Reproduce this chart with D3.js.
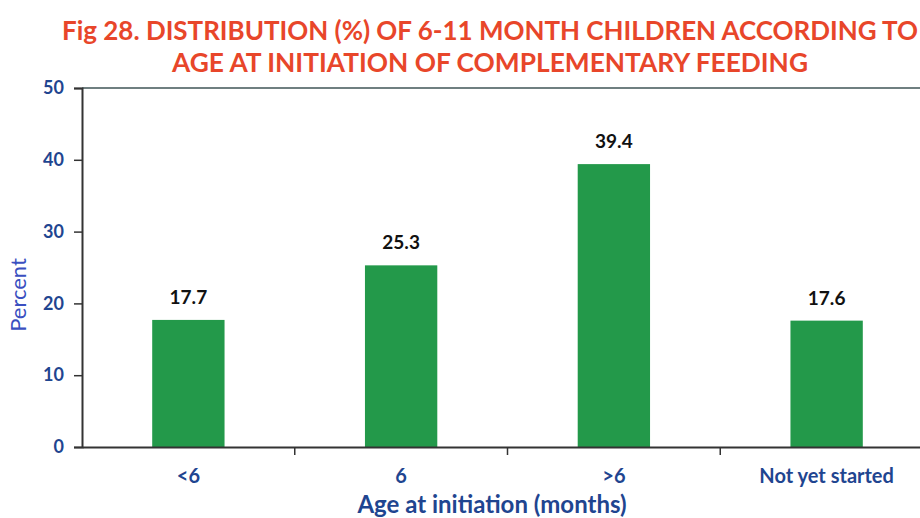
<!DOCTYPE html>
<html>
<head>
<meta charset="utf-8">
<script src="https://cdn.jsdelivr.net/npm/d3@7"></script>
<style>
  body { margin: 0; background: #fff; }
  svg { display: block; font-family: Lato, "Open Sans", sans-serif; }
</style>
</head>
<body>
<div id="chart"></div>
<script>
// data
var categories = ["<6", "6", ">6", "Not yet started"];
var percents = [17.7, 25.3, 39.4, 17.6];
var yTicks = [0, 10, 20, 30, 40, 50];

var width = 920, height = 518;
var plotLeft = 82, plotRight = 933, plotTop = 88, plotBottom = 447;

var svg = d3.select("#chart").append("svg")
    .attr("width", width)
    .attr("height", height);

var x = d3.scaleBand()
    .domain(categories)
    .range([plotLeft, plotRight])
    .paddingInner(0.66)
    .paddingOuter(0.33);

var y = d3.scaleLinear()
    .domain([0, 50])
    .range([plotBottom, plotTop]);

// title
var title = svg.append("g").attr("fill", "#e8462a").attr("font-weight", "bold")
    .attr("text-anchor", "middle").attr("font-size", 26);
title.append("text").attr("x", 490).attr("y", 40)
    .attr("textLength", 856).attr("lengthAdjust", "spacingAndGlyphs")
    .text("Fig 28. DISTRIBUTION (%) OF 6-11 MONTH CHILDREN ACCORDING TO");
title.append("text").attr("x", 490).attr("y", 72)
    .attr("textLength", 636).attr("lengthAdjust", "spacingAndGlyphs")
    .text("AGE AT INITIATION OF COMPLEMENTARY FEEDING");

// top frame line
svg.append("line")
    .attr("x1", plotLeft).attr("x2", width)
    .attr("y1", plotTop).attr("y2", plotTop)
    .attr("stroke", "#6f7f80").attr("stroke-width", 2);

// bars
svg.selectAll("rect.bar")
    .data(percents)
    .enter().append("rect")
    .attr("class", "bar")
    .attr("x", function(d, i) { return x(categories[i]); })
    .attr("width", x.bandwidth())
    .attr("y", function(d) { return y(d); })
    .attr("height", function(d) { return plotBottom - y(d); })
    .attr("fill", "#23994a");

// value labels
svg.selectAll("text.val")
    .data(percents)
    .enter().append("text")
    .attr("class", "val")
    .attr("x", function(d, i) { return x(categories[i]) + x.bandwidth() / 2; })
    .attr("y", function(d) { return y(d) - 16; })
    .attr("text-anchor", "middle")
    .attr("font-weight", "bold")
    .attr("font-size", 19)
    .attr("fill", "#111")
    .text(function(d) { return d.toFixed(1); });

// y axis
var yAxis = svg.append("g")
    .attr("transform", "translate(" + plotLeft + ",0)")
    .call(d3.axisLeft(y).tickValues(yTicks).tickSize(8).tickPadding(10));
yAxis.select(".domain").attr("stroke", "#333").attr("stroke-width", 2);
yAxis.selectAll(".tick line").attr("stroke", "#333").attr("stroke-width", 1.5);
yAxis.selectAll(".tick text")
    .attr("font-family", "Lato, sans-serif")
    .attr("font-size", 18).attr("font-weight", "bold").attr("fill", "#1f4590");

// x axis: ticks at band boundaries
var xAxis = svg.append("g")
    .attr("transform", "translate(0," + plotBottom + ")")
    .call(d3.axisBottom(x).tickSize(0).tickPadding(22));
xAxis.select(".domain").attr("stroke", "#333").attr("stroke-width", 2);
xAxis.selectAll(".tick text")
    .attr("font-family", "Lato, sans-serif")
    .attr("font-size", 20).attr("font-weight", "bold").attr("fill", "#1f4590");

var step = x.step();
xAxis.selectAll("line.sep")
    .data(categories.slice(1))
    .enter().append("line")
    .attr("class", "sep")
    .attr("x1", function(d) { return x(d) - (step - x.bandwidth()) / 2; })
    .attr("x2", function(d) { return x(d) - (step - x.bandwidth()) / 2; })
    .attr("y1", 0).attr("y2", 8)
    .attr("stroke", "#333").attr("stroke-width", 1.5);

// axis titles
svg.append("text")
    .attr("x", 492).attr("y", 513)
    .attr("text-anchor", "middle")
    .attr("font-size", 24).attr("font-weight", "bold")
    .attr("fill", "#1f4590")
    .text("Age at initiation (months)");

svg.append("text")
    .attr("transform", "translate(26,295) rotate(-90)")
    .attr("text-anchor", "middle")
    .attr("font-size", 22)
    .attr("fill", "#3a4fc0")
    .text("Percent");
</script>
</body>
</html>
